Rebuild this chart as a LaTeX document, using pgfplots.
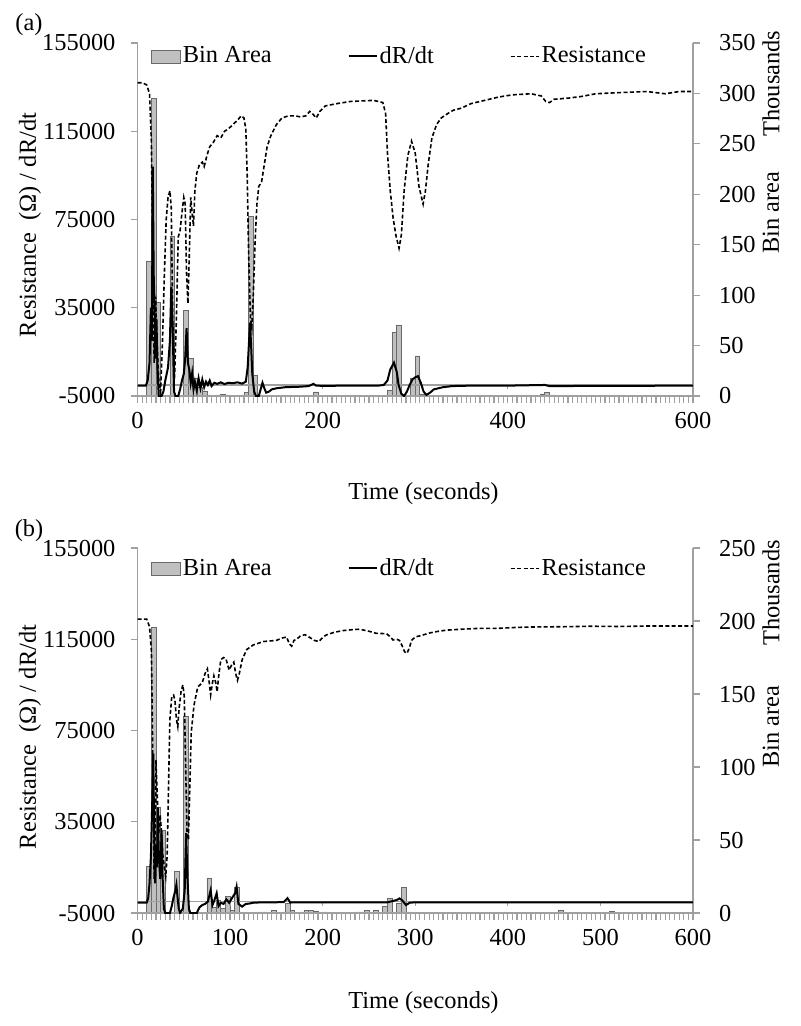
\documentclass[border=0pt]{standalone}
\usepackage{fontspec}
\setmainfont{Liberation Serif}
\usepackage{pgfplots}
\pgfplotsset{compat=1.18}
\definecolor{axgray}{RGB}{160,160,160}
\definecolor{barfill}{RGB}{192,192,192}
\definecolor{baredge}{RGB}{105,105,105}
\newcommand{\fs}{\fontsize{12.2}{14}\selectfont}
\pgfplotsset{
  base/.style={
    scale only axis, width=277.75pt,
    xmin=0, xmax=600,
    scaled y ticks=false, scaled x ticks=false,
    tick label style={font=\fs},
    /pgf/number format/assume math mode=true,
    /pgf/number format/1000 sep={},
    axis line style={axgray, line width=0.6pt},
    tick style={axgray, line width=0.6pt},
    tick align=outside,
    major tick length=3.5pt, minor tick length=3.5pt,
  },
  barax/.style={base, axis y line*=right, axis x line=none,
    yticklabel style={anchor=west, xshift=6pt}},
  lineax/.style={base, axis y line*=left, axis x line*=bottom,
    ymin=-5000, ymax=155000,
    ytick={-5000,35000,75000,115000,155000},
    yticklabels={-5000,35000,75000,115000,155000},
    yticklabel style={anchor=east, xshift=-4pt},
    xticklabel style={yshift=-1pt},
    legend style={draw=none, fill=none, inner sep=0pt, legend columns=3,
      font=\fs, anchor=west, nodes={inner sep=1pt},
      /tikz/every even column/.append style={column sep=37pt}},
    legend image code/.code={\draw[#1] (0pt,0pt) -- (14pt,0pt);},
  },
  barstyle/.style={ybar, bar width=5, bar shift=0pt, fill=barfill, draw=baredge, line width=0.4pt},
  drdt/.style={black, line width=1pt},
  res/.style={black, line width=0.8pt, dash pattern=on 2pt off 1.2pt},
}
\begin{document}
\begin{tikzpicture}
\useasboundingbox (0,0) rectangle (400pt,-513pt);
% ===================== (a) =====================
\begin{axis}[barax, at={(68.75pt,-198pt)}, anchor=south west, height=176.5pt,
  ymin=0, ymax=350, ytick={0,50,100,150,200,250,300,350}]
\addplot[barstyle] coordinates {
(12.5,133)(17.5,295)(22.5,93)(37.5,158.5)(52.5,84.6)(57.5,37)(62.5,17)(67.5,9)(72.5,5)
(77.5,1)(87.5,1)(92.5,1.2)(97.5,1)(117.5,3.3)(122.5,178)(127.5,20)(132.5,1)
(142.5,0.5)(152.5,0.5)(157.5,0.5)(167.5,0.5)(172.5,0.5)(177.5,0.5)(182.5,0.5)
(192.5,4)(197.5,0.5)(207.5,0.5)(217.5,0.5)(227.5,0.5)(237.5,0.5)(242.5,0.5)(252.5,0.5)(262.5,0.5)
(272.5,5.3)(277.5,62.8)(282.5,70.4)(287.5,1)(297.5,17.5)(302.5,39.7)(307.5,1.5)
(317.5,0.5)(332.5,0.5)(342.5,0.5)(347.5,0.5)(357.5,0.5)(367.5,0.5)(377.5,0.5)(387.5,0.5)(392.5,0.5)
(402.5,0.5)(412.5,0.5)(417.5,0.5)(427.5,0.5)(437.5,2)(442.5,3.3)(447.5,1)
(457.5,0.5)(462.5,0.5)(472.5,0.5)(482.5,0.5)(487.5,0.5)(497.5,0.5)(502.5,0.5)(512.5,0.5)(522.5,0.5)
(527.5,0.5)(537.5,0.5)(542.5,0.5)(552.5,0.5)(562.5,0.5)(567.5,0.5)(577.5,0.5)(582.5,0.5)(592.5,0.5)(597.5,0.5)
};
\end{axis}
\begin{axis}[lineax, at={(68.75pt,-198pt)}, anchor=south west, height=176.5pt,
  xtick={0,200,400,600}, xticklabels={0,200,400,600}, minor x tick num=39,
  legend style={at={(0.0238,0.962)}}]
\addlegendimage{legend image code/.code={\draw[fill=barfill, draw=baredge, line width=0.4pt] (0pt,-3.25pt) rectangle (14.5pt,3.25pt);}}
\addlegendentry{Bin Area}
\addplot[axgray, line width=0.6pt, forget plot] coordinates {(0,0)(600,0)};
\addplot[axgray, line width=0.6pt, ycomb, forget plot] coordinates {(200,-1800)(400,-1800)(600,-1800)};
\addplot[drdt] coordinates {
(0,-300)(9,-300)(11,2000)(13,10000)(14.5,35000)(15.5,20000)(16.5,99000)(17.5,50000)(18.5,35000)
(19.5,12000)(20.5,30000)(21.5,8000)(23,-5000)(26,-5000)(28,-3000)(30,2000)(33,8000)(35,20000)
(36.5,44500)(38,25000)(39.5,-3000)(41,-5000)(44,-5000)(46,-2000)(48,2000)(50,5000)(51.5,12000)
(53,25700)(54.5,10000)(56,6800)(57.5,1000)(59,5300)(60.5,-2000)(62,1500)(64,-2500)(66,3000)
(68,-1500)(70,2500)(72,-1000)(74,1500)(76,0)(78,2000)(80,-500)(83,1000)(86,500)(90,1200)
(94,400)(98,1000)(103,800)(108,1200)(113,600)(117,1500)(119,8000)(120.5,20000)(121.5,28200)
(122.5,20000)(124,5000)(126,-3000)(128,-5000)(131,-5000)(133,-2000)(135,1000)(137,-1500)
(139,-3500)(142,-3000)(145,-2000)(150,-1500)(160,-1000)(175,-800)(185,-500)(190,500)(193,-300)
(200,-400)(230,-300)(260,-300)(266,0)(270,2000)(273,7000)(277,10100)(280,6000)(282,0)(285,-4000)
(288,-5000)(291,-3000)(294,0)(297,2500)(300,3500)(303,4000)(306,1000)(309,-3000)(312,-4500)
(316,-3500)(320,-2000)(330,-1000)(340,-500)(360,-300)(400,-300)(440,0)(445,-500)(600,-300)
};
\addlegendentry{dR/dt}
\addplot[res] coordinates {
(0,137000)(5,137000)(10,136000)(13,132000)(15,110000)(16.5,60000)(18,10000)(19.5,40000)(21,20000)
(23,2000)(25,-3000)(27,20000)(29,50000)(31,75000)(33,85000)(35,88000)(36.5,80000)(38,30000)
(40,3000)(42,30000)(44,67000)(46,70000)(48,78000)(50,85000)(51.5,82000)(53,50000)(54.5,37000)
(56,60000)(57.5,85000)(59,78000)(60.5,72000)(62,88000)(64,96000)(67,100000)(70,101000)(72,99000)
(75,104000)(78,108000)(82,110000)(86,113000)(90,112000)(94,115000)(98,116000)(103,118000)
(108,120000)(112,122000)(115,121000)(117,116000)(118.5,95000)(120,60000)(122,30000)(123.5,26000)
(125,40000)(127,65000)(129,82000)(131,90000)(134,92000)(137,100000)(140,108000)(144,113000)
(150,118000)(156,121000)(163,122000)(170,122000)(176,121500)(182,122000)(186,124000)(189,123000)
(193,121000)(197,124000)(203,126500)(215,127500)(230,128500)(255,129000)(265,128000)(268,123000)
(270,105000)(273,88000)(276,76000)(279,68000)(282.5,62000)(285,68000)(288,88000)(292,104000)
(296,110500)(300,105000)(304,90000)(308.5,82000)(311,88000)(314,100000)(318,112000)(323,118000)
(328,121000)(335,123000)(341,124500)(350,125500)(360,127500)(375,129000)(390,130500)(405,131500)
(425,132000)(436,131000)(441,128500)(445,128000)(450,129500)(465,130000)(480,130800)(495,132000)
(520,132500)(550,133000)(570,132000)(585,133000)(600,133000)
};
\addlegendentry{Resistance}
\end{axis}
% ===================== (b) =====================
\begin{axis}[barax, at={(68.75pt,-456.5pt)}, anchor=south west, height=182.5pt,
  ymin=0, ymax=250, ytick={0,50,100,150,200,250}]
\addplot[barstyle] coordinates {
(12.5,31.7)(17.5,195.7)(22.5,72.5)(27.5,56.8)(42.5,28.3)(52.5,134.5)(77.5,23.7)(82.5,4)(87.5,8.9)
(92.5,3)(97.5,11.2)(102.5,2)(107.5,17.6)(132.5,0.7)(137.5,0.7)(147.5,2)(157.5,0.7)(162.5,6.6)
(167.5,1.5)(177.5,0.7)(182.5,2)(187.5,2)(192.5,1)(202.5,0.7)(212.5,0.5)(237.5,0.7)(242.5,0.7)
(247.5,1.5)(257.5,1.5)(262.5,0.5)(267.5,4.3)(272.5,10)(277.5,0.7)(282.5,6.6)(287.5,17.4)(292.5,0.7)
(302.5,0.5)(312.5,0.5)(322.5,0.5)(327.5,0.5)(337.5,0.5)(342.5,0.5)(352.5,0.5)(362.5,0.5)(367.5,0.5)
(377.5,0.5)(387.5,0.5)(392.5,0.5)(402.5,0.5)(412.5,0.5)(417.5,0.5)(427.5,0.5)(437.5,0.5)(442.5,0.5)
(452.5,0.5)(457.5,1.5)(467.5,0.5)(477.5,0.5)(482.5,0.5)(492.5,0.5)(502.5,0.5)(507.5,0.5)(512.5,1.2)
(522.5,0.5)(532.5,0.5)(537.5,0.5)(547.5,0.5)(557.5,0.5)(562.5,0.5)(572.5,0.5)(582.5,0.5)(587.5,0.5)(597.5,0.5)
};
\end{axis}
\begin{axis}[lineax, at={(68.75pt,-456.5pt)}, anchor=south west, height=182.5pt,
  xtick={0,100,200,300,400,500,600}, xticklabels={0,100,200,300,400,500,600}, minor x tick num=19,
  legend style={at={(0.0238,0.944)}}]
\addlegendimage{legend image code/.code={\draw[fill=barfill, draw=baredge, line width=0.4pt] (0pt,-3.25pt) rectangle (14.5pt,3.25pt);}}
\addlegendentry{Bin Area}
\addplot[axgray, line width=0.6pt, forget plot] coordinates {(0,0)(600,0)};
\addplot[axgray, line width=0.6pt, ycomb, forget plot] coordinates {(100,-1800)(200,-1800)(300,-1800)(400,-1800)(500,-1800)(600,-1800)};
\addplot[drdt] coordinates {
(0,-400)(10,-400)(11.5,1400)(13,8000)(14.5,20000)(16,45000)(17,65000)(18,30000)(19,8000)(20,25000)
(21,15000)(22,41000)(23,20000)(24.5,10000)(26,31000)(27,12000)(28.5,-3000)(30,-5000)(35,-5000)
(37,-2000)(39,2000)(41,5000)(42,7300)(43,3000)(44.5,-3000)(46,-5000)(49,-3000)(51,5000)(52.5,30000)
(54,10000)(55.5,-3000)(57,-5000)(64,-5000)(67,-2500)(70,-1500)(73,-1000)(76,0)(79,5000)(81,-1500)
(83,500)(85.5,3700)(87.5,-2000)(90,-500)(93,-1000)(96,1000)(99,-500)(102,1500)(105.5,3700)(107,6500)
(109,-1000)(113,-2200)(117,-1000)(120,-900)(125,-500)(135,-300)(150,-300)(158,-200)(162,1500)
(165,-400)(175,-300)(200,-300)(240,-300)(270,-300)(276,300)(280,700)(283,1400)(286,500)(290,-1500)
(294,-500)(300,-300)(600,-300)
};
\addlegendentry{dR/dt}
\addplot[res] coordinates {
(0,123800)(10,123800)(13,120500)(15,110000)(16,80000)(17,40000)(18,10000)(19,30000)(20,62000)
(21,50000)(22,40000)(23,30000)(24.5,38000)(26,30000)(27.5,20000)(29,15000)(30.5,11000)(32,20000)
(33.5,50000)(35,80000)(37,89800)(39,90500)(40.5,88000)(42,80000)(43.5,76700)(45,85000)(47,92000)
(49,95000)(50.5,90000)(52,60000)(53.5,30000)(55,27000)(56.5,50000)(58,74000)(61,86000)(65,94000)
(70,96000)(73,100000)(75.5,102000)(77.5,96000)(79,90600)(81,96000)(82.5,99000)(84.5,96000)
(86,92000)(88,100000)(90,106000)(93,107000)(95.5,106500)(99,101500)(102,104000)(104,105000)
(106,100000)(108,97000)(110,100000)(113,106000)(118,110500)(125,112500)(136,114000)(150,114500)
(156,115500)(161,116000)(164,113000)(166.5,112000)(169,114500)(172,115000)(176,116500)(181,117000)
(186,115800)(191,114500)(196,114000)(200,115800)(204,116900)(212,118000)(222,118800)(232,119200)
(240,119400)(250,118500)(258,117600)(265,117500)(269,117500)(273,116000)(276,114700)(280,115000)
(283,114500)(286,112000)(288.5,109500)(291,108800)(293.5,111000)(296,114500)(300,116000)
(306,116600)(316,117800)(325,118500)(334,119000)(350,119400)(370,119800)(390,119800)(410,120200)
(430,120400)(460,120500)(490,120700)(520,120600)(550,120800)(580,120800)(600,120800)
};
\addlegendentry{Resistance}
\end{axis}
% ===================== labels =====================
\node[font=\fs] at (14.5pt,-12.5pt) {(a)};
\node[font=\fs, rotate=90] at (15pt,-112.5pt) {Resistance\ \ (Ω) / dR/dt};
\node[font=\fs, rotate=90] at (385.5pt,-41.75pt) {Thousands};
\node[font=\fs, rotate=90] at (385.5pt,-106.5pt) {Bin area};
\node[font=\fs] at (211.75pt,-247pt) {Time (seconds)};
\node[font=\fs] at (14.5pt,-265.5pt) {(b)};
\node[font=\fs, rotate=90] at (15pt,-368.5pt) {Resistance\ \ (Ω) / dR/dt};
\node[font=\fs, rotate=90] at (385.5pt,-296.5pt) {Thousands};
\node[font=\fs, rotate=90] at (385.5pt,-363.5pt) {Bin area};
\node[font=\fs] at (211.75pt,-501.5pt) {Time (seconds)};
\end{tikzpicture}
\end{document}
